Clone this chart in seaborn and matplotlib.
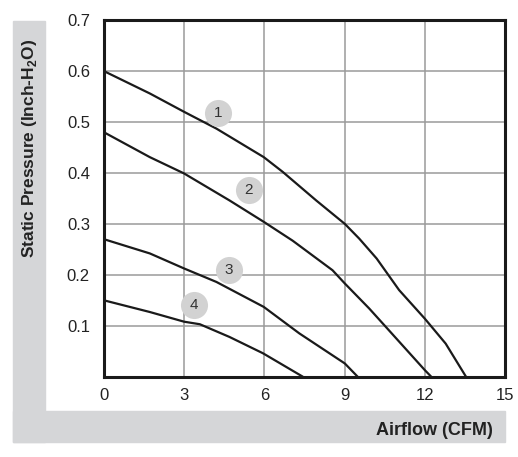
import numpy as np
import pandas as pd
import seaborn as sns
import matplotlib.pyplot as plt
from matplotlib.patches import Rectangle

sns.set_style("white")
plt.rcParams['font.family'] = ['Liberation Sans', 'DejaVu Sans']
plt.rcParams['mathtext.fontset'] = 'custom'
plt.rcParams['mathtext.rm'] = 'Liberation Sans'
plt.rcParams['mathtext.bf'] = 'Liberation Sans:bold'

# fan curves: airflow (CFM) -> static pressure (inch H2O)
flow_1 = [0, 1.72, 3.0, 4.21, 5.98, 6.69, 7.94, 9.01, 9.55, 10.2, 11.04, 12.0, 12.78, 13.54]
pres_1 = [0.60, 0.556, 0.52, 0.487, 0.431, 0.402, 0.346, 0.30, 0.271, 0.232, 0.17, 0.114, 0.065, 0.0]

flow_2 = [0, 1.72, 3.0, 4.7, 5.98, 7.06, 8.55, 9.01, 9.92, 10.54, 12.0, 12.24]
pres_2 = [0.48, 0.431, 0.399, 0.346, 0.304, 0.267, 0.209, 0.183, 0.134, 0.098, 0.013, 0.0]

flow_3 = [0, 1.72, 3.0, 4.21, 5.98, 7.31, 9.01, 9.49]
pres_3 = [0.27, 0.242, 0.2125, 0.186, 0.137, 0.085, 0.026, 0.0]

flow_4 = [0, 1.72, 3.0, 3.59, 4.7, 5.95, 7.44]
pres_4 = [0.15, 0.127, 0.108, 0.103, 0.078, 0.046, 0.0]

curve_names = ["1", "2", "3", "4"]
label_x = [4.27, 5.42, 4.68, 3.37]
label_y = [0.518, 0.367, 0.21, 0.14]

x_ticks = [0, 3, 6, 9, 12, 15]
y_ticks = [0.1, 0.2, 0.3, 0.4, 0.5, 0.6, 0.7]

frames = []
for name, fx, fy in zip(curve_names, [flow_1, flow_2, flow_3, flow_4],
                        [pres_1, pres_2, pres_3, pres_4]):
    frames.append(pd.DataFrame({"flow": fx, "pressure": fy, "curve": name}))
df = pd.concat(frames, ignore_index=True)

fig = plt.figure(figsize=(5.18, 4.57), dpi=100)

# grey L-shaped band behind the axis titles
band = '#d5d6d8'
fig.patches.append(Rectangle((0.0251, 0.0328), 0.0618, 0.921, transform=fig.transFigure,
                             color=band, zorder=0))
fig.patches.append(Rectangle((0.0251, 0.0328), 0.9499, 0.068, transform=fig.transFigure,
                             color=band, zorder=0))

ax = fig.add_axes([0.2004, 0.1757, 0.7746, 0.7803])
ax.set_facecolor('white')

sns.lineplot(data=df, x="flow", y="pressure", units="curve", estimator=None,
             color='#1a1a1a', linewidth=1.6, ax=ax, sort=False)

ax.scatter(label_x, label_y, s=380, color='#d2d2d2', zorder=3, linewidths=0)
for name, lx, ly in zip(curve_names, label_x, label_y):
    ax.text(lx, ly, name, ha='center', va='center', fontsize=11, color='#333333', zorder=4)

ax.set_xlim(0, 15)
ax.set_ylim(0, 0.7)
ax.set_xticks(x_ticks)
ax.set_yticks(y_ticks)
ax.set_xticklabels([str(t) for t in x_ticks])
ax.set_yticklabels([f"{t:.1f}" for t in y_ticks])
ax.grid(True, color='#9a9a9a', linewidth=1.1)
ax.set_axisbelow(True)
ax.tick_params(length=0, labelsize=12, colors='#222222')
ax.tick_params(axis='y', pad=10)
ax.tick_params(axis='x', pad=8)
for sp in ax.spines.values():
    sp.set_visible(True)
    sp.set_color('#1a1a1a')
    sp.set_linewidth(2.2)
ax.set_xlabel("")
ax.set_ylabel("")

fig.text(0.056, 0.676, r"Static Pressure (Inch-H$_\mathbf{2}$O)", rotation=90,
         ha='center', va='center', fontsize=12.5, fontweight='bold', color='#222222')
fig.text(0.952, 0.059, "Airflow (CFM)", ha='right', va='center',
         fontsize=13, fontweight='bold', color='#222222')

fig.savefig("out.png", dpi=100)
